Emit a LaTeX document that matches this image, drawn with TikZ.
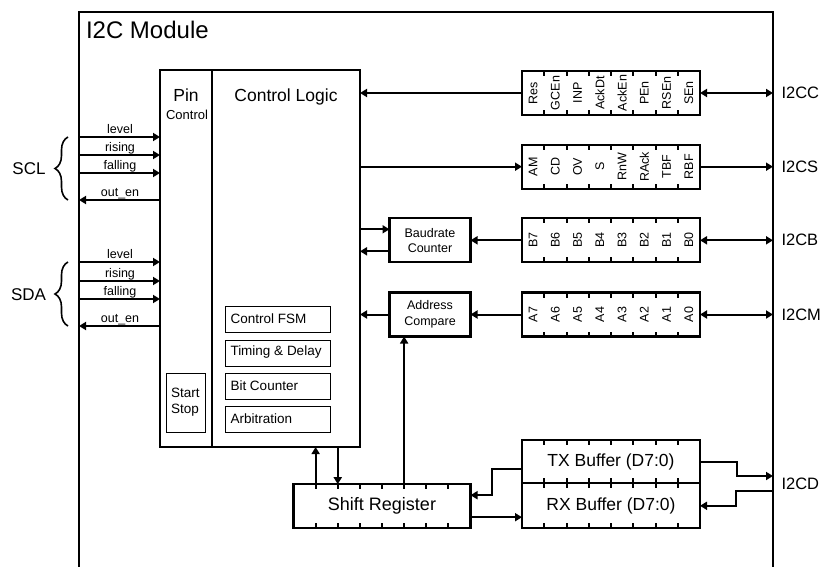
\documentclass[tikz,border=0pt]{standalone}
\usepackage{fontspec}
\setmainfont{Liberation Sans}
\usetikzlibrary{arrows.meta,calc,decorations.pathreplacing}
\newcommand{\fsz}[2]{\fontsize{#1}{#2}\selectfont}
\newcommand{\regTicks}[1]{%
  \foreach \k in {1,...,7}{%
    \draw[tick] ($(#1.north west)!\k/8!(#1.north east)$) -- ++(0,5);
    \draw[tick] ($(#1.south west)!\k/8!(#1.south east)$) -- ++(0,-5);
  }}
\newcommand{\regLabels}[2]{%
  \foreach \t [count=\k from 0] in {#2}{%
    \node[txt, rotate=90, font=\fsz{12.5}{14}] (#1l\k) at ($(#1.west)+(\k*22.25+11.125,0)$) {\t};
  }}
\begin{document}
\begin{tikzpicture}[x=1pt,y=-1pt,
  box/.style={draw, line width=2.1pt, inner sep=0pt, outer sep=0pt},
  thinbox/.style={draw, line width=1pt, inner sep=0pt, outer sep=0pt},
  txt/.style={inner sep=0pt, outer sep=0pt},
  arr/.style={line width=2pt, -{Triangle[length=7pt,width=8pt]}},
  dbl/.style={line width=2pt, {Triangle[length=7pt,width=8pt]}-{Triangle[length=7pt,width=8pt]}},
  tick/.style={line width=2pt},
  brc/.style={decorate, decoration={brace, amplitude=13pt}, line width=1.6pt},
  sigl/.style={txt, anchor=base, font=\fsz{12.5}{14}},
  reglab/.style={txt, anchor=west, font=\fsz{16.5}{19}},
]
\useasboundingbox (0,0) rectangle (824,567);

% module outline
\draw[line width=1.1pt] (79,567) -- (79,12) -- (773,12) -- (773,567);
\coordinate (mL) at (79,0);
\coordinate (mR) at (773,0);
\node[txt, anchor=base west, font=\fsz{24}{28}] (title) at (86,39) {I2C Module};

% pin control and control logic
\node[box, minimum width=52pt, minimum height=377pt] (pin) at (186,258.5) {};
\node[box, minimum width=148pt, minimum height=377pt] (ctrl) at (286,258.5) {};
\node[txt, anchor=base, font=\fsz{17.5}{20}] (pintxt) at (186,102) {Pin};
\node[txt, anchor=base, font=\fsz{13}{15}] (pintxt2) at (187,120) {Control};
\node[txt, anchor=base, font=\fsz{17.5}{20}] (ctrltxt) at (286,102) {Control Logic};

% start stop
\node[thinbox, minimum width=39pt, minimum height=59pt] (ss) at (185.7,403) {};
\node[txt, anchor=west, align=left, font=\fsz{13.5}{15.5}] (sstxt) at (171,402) {Start\\Stop};

% inner boxes
\foreach \n/\y/\t in {fsm/319.7/Control FSM, tim/353/Timing \& Delay, bitc/386.3/Bit Counter, arb/419.7/Arbitration}{
  \node[thinbox, minimum width=105pt, minimum height=26pt] (\n) at (278,\y) {};
  \node[txt, anchor=west, font=\fsz{13.5}{15}] (\n-t) at ($(\n.west)+(5,-1)$) {\t};
}

% SCL / SDA signals
\foreach \n/\y/\l in {sa/137/level, sb/155/rising, sc/173/falling, da/262/level, db/281/rising, dc/299/falling}{
  \coordinate (\n) at (79,\y);
  \draw[arr] (\n) -- (\n -| pin.west);
  \node[sigl] (\n-t) at ($(\n)+(41,-3.5)$) {\l};
}
\foreach \n/\y in {so/200, do/326}{
  \coordinate (\n) at (79,\y);
  \draw[arr] (\n -| pin.west) -- (\n);
  \node[sigl] (\n-t) at ($(\n)+(41,-3.5)$) {out\_en};
}
\draw[brc] (68,200) -- (68,137);
\draw[brc] (68,326) -- (68,262);
\node[txt, font=\fsz{17}{20}] (scl) at (29,169) {SCL};
\node[txt, font=\fsz{17}{20}] (sda) at (28.5,295) {SDA};

% registers
\node[box, minimum width=178pt, minimum height=44pt] (regC) at (611,93) {};
\node[box, minimum width=178pt, minimum height=44pt] (regS) at (611,166.7) {};
\node[box, minimum width=178pt, minimum height=44pt] (regB) at (611,240.3) {};
\node[box, minimum width=178pt, minimum height=44pt] (regM) at (611,314.5) {};
\regTicks{regC}\regTicks{regS}\regTicks{regB}\regTicks{regM}
\regLabels{regC}{Res,GCEn,INP,AckDt,AckEn,PEn,RSEn,SEn}
\regLabels{regS}{AM,CD,OV,S,RnW,RAck,TBF,RBF}
\regLabels{regB}{B7,B6,B5,B4,B3,B2,B1,B0}
\regLabels{regM}{A7,A6,A5,A4,A3,A2,A1,A0}

% baudrate / address
\node[box, minimum width=81pt, minimum height=44pt, align=center, font=\fsz{12.5}{15.5}] (baud) at (430,240.3) {Baudrate\\Counter};
\node[box, minimum width=81pt, minimum height=44pt, align=center, font=\fsz{12.5}{15.5}] (addr) at (430,314.5) {Address\\Compare};

% register connections
\draw[arr] (regC.west) -- (regC.west -| ctrl.east);
\draw[dbl] (regC.east) -- (regC.east -| mR);
\draw[arr] (regS.west -| ctrl.east) -- (regS.west);
\draw[arr] (regS.east) -- (regS.east -| mR);
\draw[arr] (regB.west) -- (baud.east);
\draw[dbl] (regB.east) -- (regB.east -| mR);
\coordinate (b1) at ($(baud.west)+(0,-11)$);
\coordinate (b2) at ($(baud.west)+(0,11)$);
\draw[arr] (b1 -| ctrl.east) -- (b1);
\draw[arr] (b2) -- (b2 -| ctrl.east);
\draw[arr] (regM.west) -- (addr.east);
\draw[dbl] (regM.east) -- (regM.east -| mR);
\draw[arr] (addr.west) -- (addr.west -| ctrl.east);

\node[reglab] (lC) at ($(regC.east -| mR)+(8.5,0)$) {I2CC};
\node[reglab] (lS) at ($(regS.east -| mR)+(8.5,0)$) {I2CS};
\node[reglab] (lB) at ($(regB.east -| mR)+(8.5,0)$) {I2CB};
\node[reglab] (lM) at ($(regM.east -| mR)+(8.5,0)$) {I2CM};

% shift register and buffers
\node[box, minimum width=177pt, minimum height=44pt, font=\fsz{18}{21}] (sr) at (382,506.2) {Shift Register};
\node[box, minimum width=178pt, minimum height=43.3pt, font=\fsz{17.5}{21}] (tx) at (611,461.7) {TX Buffer (D7:0)};
\node[box, minimum width=178pt, minimum height=45pt, font=\fsz{17.5}{21}] (rx) at (611,505.8) {RX Buffer (D7:0)};
\regTicks{sr}\regTicks{tx}\regTicks{rx}

\coordinate (s1) at ($(sr.north west)!1/8!(sr.north east)$);
\coordinate (s2) at ($(sr.north west)!2/8!(sr.north east)$);
\coordinate (s5) at ($(sr.north west)!5/8!(sr.north east)$);
\draw[arr] (s1) -- (s1 |- ctrl.south);
\draw[arr] (s2 |- ctrl.south) -- (s2);
\draw[arr] (s5) -- (s5 |- addr.south);

\coordinate (t1) at ($(tx.west)+(0,7)$);
\coordinate (r1) at ($(sr.east)+(0,-11)$);
\coordinate (r2) at ($(sr.east)+(0,11)$);
\draw[arr] (t1) -- ++(-30,0) |- (r1);
\draw[arr] (r2) -- (r2 -| rx.west);

\coordinate (dOut) at (773,476);
\coordinate (dIn) at (773,490.7);
\draw[arr] (tx.east) -- ++(37,0) |- (dOut);
\draw[arr] (dIn) -- ++(-37,0) |- (rx.east);
\node[reglab] (lD) at (781.5,484) {I2CD};
\end{tikzpicture}
\end{document}
